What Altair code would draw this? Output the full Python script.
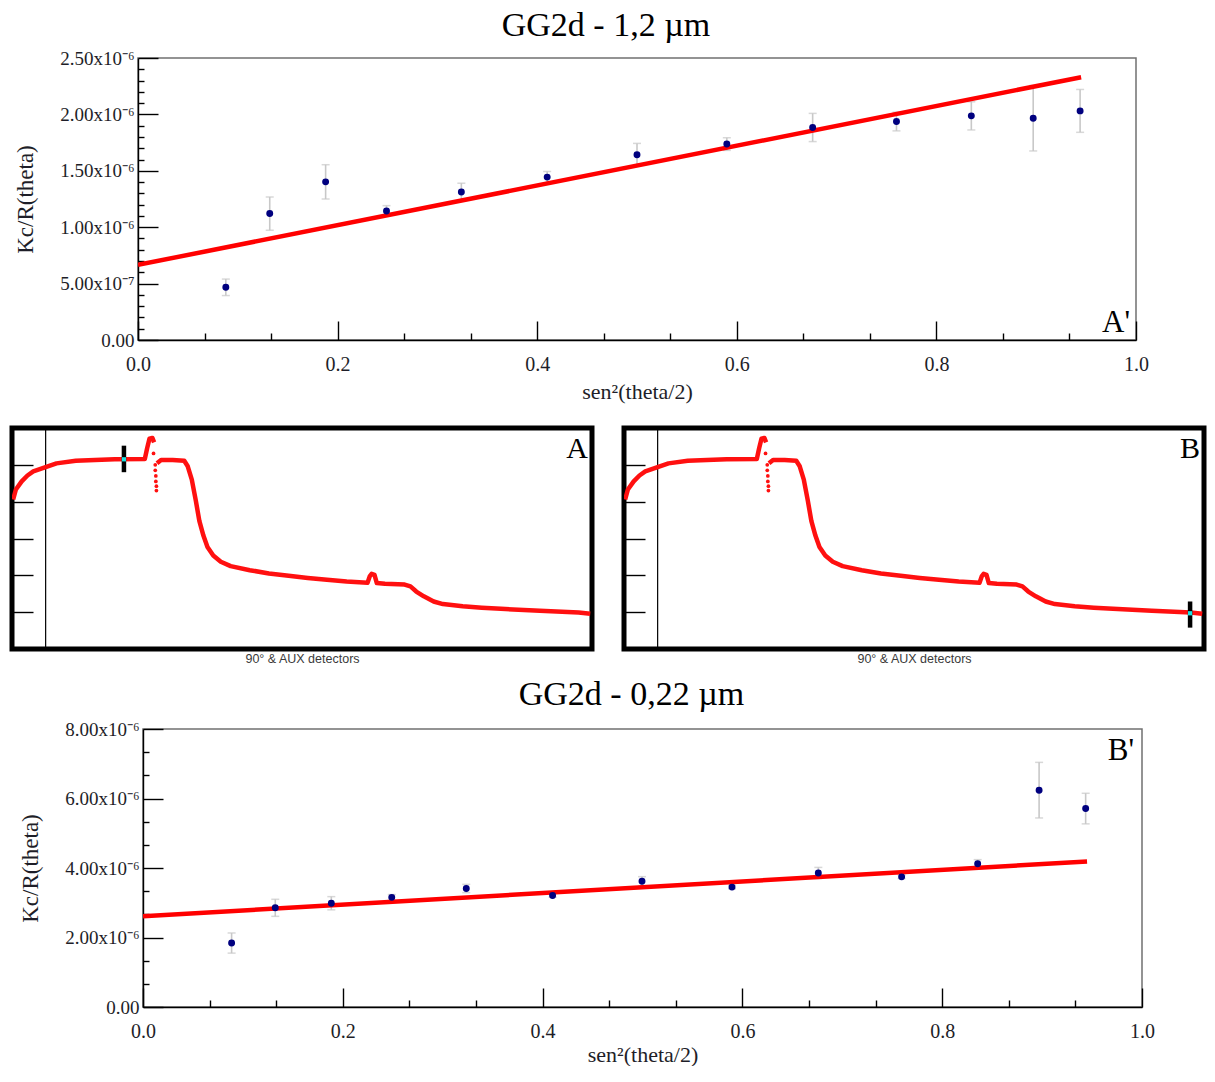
import altair as alt
import pandas as pd

SERIF = "Liberation Serif"
SANS = "Liberation Sans"
INK = "#1e1e28"

# ---------------- A' : GG2d - 1,2 um ----------------
a_title = "GG2d - 1,2 µm"
a_x = [0.088, 0.132, 0.188, 0.249, 0.324, 0.410, 0.500, 0.590, 0.676, 0.760, 0.835, 0.897, 0.944]
a_y = [0.467, 1.121, 1.402, 1.144, 1.312, 1.444, 1.643, 1.737, 1.884, 1.937, 1.987, 1.966, 2.031]   # x1e-6
a_err = [0.073, 0.147, 0.152, 0.047, 0.078, 0.050, 0.100, 0.056, 0.125, 0.083, 0.125, 0.290, 0.190]
a_fit_x = [0.0, 0.945]
a_fit_y = [0.666, 2.330]
a_ytick_vals = [0.0, 0.5, 1.0, 1.5, 2.0, 2.5]
a_ytick_labels = ["0.00", "5.00x10⁻⁷", "1.00x10⁻⁶", "1.50x10⁻⁶", "2.00x10⁻⁶", "2.50x10⁻⁶"]

# ---------------- B' : GG2d - 0,22 um ----------------
b_title = "GG2d - 0,22 µm"
b_x = [0.0887, 0.1324, 0.1885, 0.249, 0.3236, 0.410, 0.4995, 0.5896, 0.676, 0.7594, 0.8355, 0.897, 0.9436]
b_y = [1.84, 2.854, 2.986, 3.155, 3.41, 3.21, 3.62, 3.45, 3.857, 3.745, 4.12, 6.24, 5.71]            # x1e-6
b_err = [0.29, 0.245, 0.19, 0.08, 0.12, 0.05, 0.13, 0.05, 0.16, 0.05, 0.12, 0.80, 0.44]
b_fit_x = [0.0, 0.945]
b_fit_y = [2.61, 4.19]
b_ytick_vals = [0.0, 2.0, 4.0, 6.0, 8.0]
b_ytick_labels = ["0.00", "2.00x10⁻⁶", "4.00x10⁻⁶", "6.00x10⁻⁶", "8.00x10⁻⁶"]

x_tick_vals = [0.0, 0.2, 0.4, 0.6, 0.8, 1.0]
x_tick_labels = ["0.0", "0.2", "0.4", "0.6", "0.8", "1.0"]

# ---------------- detector trace (panels A and B) ----------------
trace_x = [0.2, 0.67, 1.67, 2.67, 3.67, 5.67, 7.67, 11.0, 14.3, 17.7, 22.9, 23.3, 23.7, 24.2, 24.5,
           25.0, 25.7, 27.7, 29.7, 30.3, 31.0, 31.7, 32.3, 33.0, 33.7, 34.7, 36.0, 37.7, 41.0, 44.3,
           47.7, 51.0, 54.3, 57.7, 61.3, 61.7, 62.0, 62.5, 62.9, 64.3, 67.7, 68.7, 69.7, 71.0, 72.7,
           74.3, 77.7, 81.0, 84.3, 91.0, 97.7, 99.7]
trace_y = [4.06, 4.33, 4.55, 4.71, 4.82, 4.93, 5.04, 5.11, 5.13, 5.15, 5.16, 5.45, 5.71, 5.73, 5.61,
           5.04, 5.13, 5.13, 5.11, 4.96, 4.60, 4.02, 3.48, 3.08, 2.77, 2.54, 2.37, 2.25, 2.14, 2.05,
           1.99, 1.93, 1.88, 1.83, 1.80, 1.98, 2.04, 2.01, 1.79, 1.77, 1.75, 1.70, 1.56, 1.43, 1.29,
           1.22, 1.16, 1.12, 1.09, 1.04, 0.99, 0.96]
trace_seg = [0] * 15 + [1] * 37
dip_x = [24.4, 24.7, 24.7, 24.8, 24.8, 24.9, 24.9]
dip_y = [5.31, 5.00, 4.85, 4.70, 4.55, 4.42, 4.30]
panel_ticks = [1, 2, 3, 4, 5]
panel_vline = [5.8]
marker_a = {"x": 19.3, "y": 5.15, "lo": 4.80, "hi": 5.52}
marker_b = {"x": 97.6, "y": 0.97, "lo": 0.58, "hi": 1.29}


def label_expr(labels, step):
    arr = ",".join("'" + s + "'" for s in labels)
    return "[" + arr + "][round(datum.value/" + str(step) + ")]"


def tick_axis(orient, values, size):
    return alt.Axis(orient=orient, values=values, offset=-size, tickSize=size, tickWidth=1.4,
                    tickColor="black", labels=False, domain=False, grid=False, title=None,
                    minExtent=0, maxExtent=0)


def spacer(w):
    return alt.Chart(pd.DataFrame({"v": [0]})).mark_point(opacity=0, size=1).encode(
        x=alt.value(0), y=alt.value(1)).properties(
        width=w, height=2, view=alt.ViewBackground(stroke="#ffffff", strokeWidth=0))


def scatter_chart(xs, ys, errs, fit_x, fit_y, yvals, ylabels, ystep, yminor, ymax,
                  title, title_dx, title_off, xtitle_pad, letter, letter_pos, w, h):
    pts = pd.DataFrame({"x": xs, "y": ys,
                        "lo": [y - e for y, e in zip(ys, errs)],
                        "hi": [y + e for y, e in zip(ys, errs)]})
    fit = pd.DataFrame({"x": fit_x, "y": fit_y})
    xsc = alt.Scale(domain=[0, 1], nice=False, zero=False)
    ysc = alt.Scale(domain=[0, ymax], nice=False, zero=False)
    xminor = [k / 15 for k in range(1, 15) if k % 3 != 0]

    x_lab = alt.Axis(orient="bottom", values=x_tick_vals,
                     labelExpr=label_expr(x_tick_labels, 0.2),
                     ticks=False, domain=True, domainColor="black", domainWidth=1.4,
                     grid=False, labelFont=SERIF, labelFontSize=20, labelColor=INK,
                     labelPadding=14, labelFlush=False,
                     title="sen²(theta/2)", titleFont=SERIF, titleFontSize=22,
                     titleFontWeight="normal", titleColor=INK, titlePadding=xtitle_pad)
    y_lab = alt.Axis(orient="left", values=yvals, labelExpr=label_expr(ylabels, ystep),
                     ticks=False, domain=True, domainColor="black", domainWidth=1.4,
                     grid=False, labelFont=SERIF, labelFontSize=19, labelColor=INK,
                     labelPadding=4, labelFlush=False, minExtent=86, maxExtent=86,
                     title="Kc/R(theta)", titleFont=SERIF, titleFontSize=23,
                     titleFontWeight="normal", titleColor=INK, titlePadding=15)

    line = alt.Chart(fit).mark_line(color="#ff0000", strokeWidth=4.5, strokeJoin="round",
                                    clip=True).encode(
        x=alt.X("x:Q", scale=xsc, axis=x_lab),
        y=alt.Y("y:Q", scale=ysc, axis=y_lab))
    bars = alt.Chart(pts).mark_rule(color="#c8c8c8", strokeWidth=1.6).encode(
        x=alt.X("x:Q", scale=xsc, axis=tick_axis("bottom", x_tick_vals, 19)),
        y=alt.Y("lo:Q", scale=ysc, axis=tick_axis("left", yvals, 20)),
        y2="hi:Q")
    cap_lo = alt.Chart(pts).mark_tick(color="#c8c8c8", orient="horizontal", size=8,
                                      thickness=1.5).encode(
        x=alt.X("x:Q", scale=xsc, axis=tick_axis("bottom", xminor, 7)),
        y=alt.Y("lo:Q", scale=ysc, axis=tick_axis("left", yminor, 6)))
    cap_hi = alt.Chart(pts).mark_tick(color="#c8c8c8", orient="horizontal", size=8,
                                      thickness=1.5).encode(
        x=alt.X("x:Q", scale=xsc, axis=None),
        y=alt.Y("hi:Q", scale=ysc, axis=None))
    dots = alt.Chart(pts).mark_circle(color="#00007f", opacity=1, size=48).encode(
        x=alt.X("x:Q", scale=xsc, axis=None),
        y=alt.Y("y:Q", scale=ysc, axis=None))
    txt = alt.Chart(pd.DataFrame({"t": [letter]})).mark_text(
        align="right", baseline="alphabetic", font=SERIF, fontSize=31, color="black").encode(
        text="t:N", x=alt.value(letter_pos[0]), y=alt.value(letter_pos[1]))

    return alt.layer(bars, cap_lo, cap_hi, line, dots, txt).resolve_axis(
        x="independent", y="independent").properties(
        width=w, height=h,
        title=alt.TitleParams(text=title, font=SERIF, fontSize=34, fontWeight="normal",
                              color="black", dx=title_dx, offset=title_off),
        view=alt.ViewBackground(stroke="#707070", strokeWidth=1.5))


def panel(letter, mk):
    tr = pd.DataFrame({"x": trace_x, "y": trace_y, "seg": trace_seg})
    dip = pd.DataFrame({"x": dip_x, "y": dip_y})
    mkdf = pd.DataFrame([mk])
    xsc = alt.Scale(domain=[0, 100], nice=False, zero=False)
    ysc = alt.Scale(domain=[0, 6], nice=False, zero=False)
    x_ax = alt.Axis(orient="bottom", ticks=False, labels=False, domain=False, grid=False,
                    title="90° & AUX detectors", titleFont=SANS, titleFontSize=12.5,
                    titleFontWeight="normal", titleColor="#3a3a3a", titlePadding=3)
    trace = alt.Chart(tr).mark_line(color="#ff1010", strokeWidth=4.5, strokeJoin="round",
                                    clip=True).encode(
        x=alt.X("x:Q", scale=xsc, axis=x_ax),
        y=alt.Y("y:Q", scale=ysc, axis=tick_axis("left", panel_ticks, 21)),
        detail="seg:N")
    dipc = alt.Chart(dip).mark_circle(color="#ff1010", opacity=1, size=14).encode(
        x=alt.X("x:Q", scale=xsc, axis=None), y=alt.Y("y:Q", scale=ysc, axis=None))
    vline = alt.Chart(pd.DataFrame({"x": panel_vline})).mark_rule(
        color="black", strokeWidth=1.2).encode(x=alt.X("x:Q", scale=xsc, axis=None))
    bar = alt.Chart(mkdf).mark_rule(color="black", strokeWidth=4.5).encode(
        x=alt.X("x:Q", scale=xsc, axis=None),
        y=alt.Y("lo:Q", scale=ysc, axis=None), y2="hi:Q")
    cyan = alt.Chart(mkdf).mark_square(color="#19e3e3", opacity=1, size=18).encode(
        x=alt.X("x:Q", scale=xsc, axis=None), y=alt.Y("y:Q", scale=ysc, axis=None))
    txt = alt.Chart(pd.DataFrame({"t": [letter]})).mark_text(
        align="right", baseline="alphabetic", font=SERIF, fontSize=30, color="black").encode(
        text="t:N", x=alt.value(576), y=alt.value(30))
    return alt.layer(vline, trace, dipc, bar, cyan, txt).resolve_axis(
        x="independent", y="independent").properties(
        width=580, height=221,
        view=alt.ViewBackground(stroke="black", strokeWidth=5))


a_yminor = [round(k * 0.1, 2) for k in range(1, 25) if k % 5 != 0]
b_yminor = [k * 2 / 3 for k in range(1, 12) if k % 3 != 0]

top = scatter_chart(a_x, a_y, a_err, a_fit_x, a_fit_y, a_ytick_vals, a_ytick_labels, 0.5,
                    a_yminor, 2.5, a_title, -31, 6, 7, "A'", (992, 274), 998, 282)
bottom = scatter_chart(b_x, b_y, b_err, b_fit_x, b_fit_y, b_ytick_vals, b_ytick_labels, 2,
                       b_yminor, 8.0, b_title, -11, 8, 3, "B'", (991, 31), 999, 278)

row1 = alt.hconcat(spacer(1), top, spacing=0)
row2 = alt.hconcat(panel("A", marker_a), panel("B", marker_b), spacing=25)
row3 = alt.hconcat(spacer(6), bottom, spacing=0)

chart = alt.vconcat(alt.vconcat(row1, row2, spacing=21), row3, spacing=10).properties(
    padding=0, background="white")

chart.save("out.html", embed_options={"renderer": "svg", "actions": False})
